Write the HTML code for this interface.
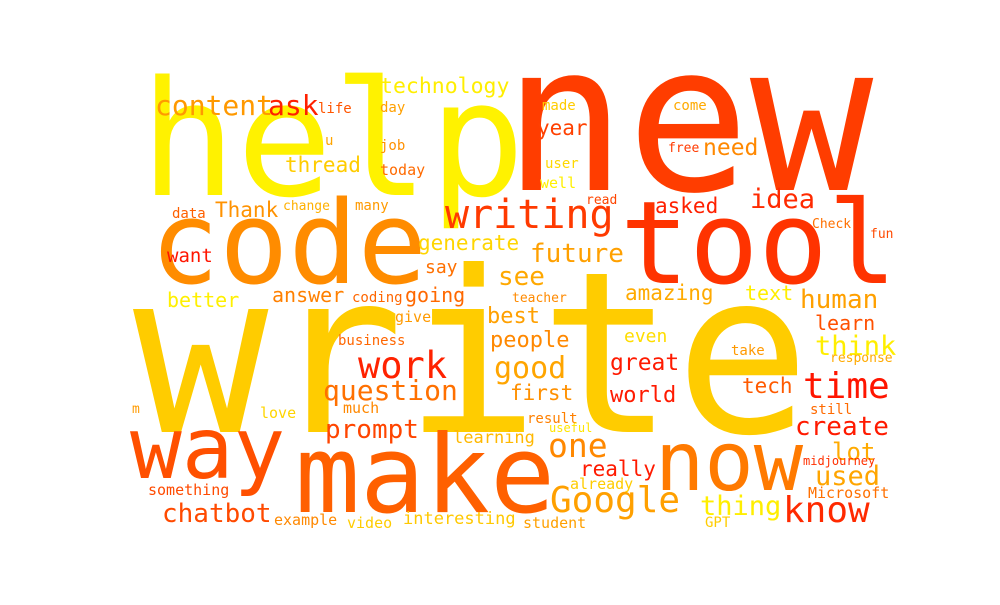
<!DOCTYPE html>
<html><head><meta charset="utf-8"><style>
html,body{margin:0;padding:0;background:#fff;}
svg text{font-family:"DejaVu Sans Mono","Liberation Mono",monospace;}
</style></head><body>
<svg width="1000" height="600" viewBox="0 0 1000 600">
<rect width="1000" height="600" fill="#fff"/>
<g id="words"></g>
</svg>
<script>
const words=["write","help","new","tool","code","make","now","way","writing","content","ask","technology","life","day","u","job","today","thread","Thank","data","change","many","want","generate","say","better","answer","coding","going","see","future","teacher","amazing","text","human","made","come","year","free","need","user","well","read","asked","idea","Check","fun","give","best","business","people","good","work","question","first","m","love","much","prompt","learning","one","even","great","world","take","learn","think","response","tech","time","still","result","useful","create","lot","really","midjourney","used","already","Microsoft","something","Google","thing","know","chatbot","example","video","interesting","student","GPT"];
const xs=[133,140,503,620,150,295,655,130,445,155,268,380,318,380,325,380,380,285,215,172,283,355,167,418,425,167,272,352,405,498,530,512,625,745,800,542,673,537,668,703,545,540,586,655,750,812,870,395,487,338,490,494,358,323,510,132,260,343,325,453,548,624,610,610,731,815,815,830,742,803,810,527,549,795,832,580,803,815,570,808,148,550,700,783,162,274,347,403,523,705];
const ys=[432,195,190,283,283,512,490,478,228,115,115,93,113,112,145,150,175,172,217,218,210,210,262,250,273,307,302,302,302,285,262,302,300,300,308,110,110,135,152,155,168,188,204,213,208,228,238,322,323,345,347,378,378,400,400,413,418,413,438,443,457,342,370,402,355,330,355,362,393,398,414,423,432,435,460,476,465,485,489,498,495,512,515,522,522,525,528,524,528,527];
const sizes=[225,160,205,115,115,108,82,86,40,28,28,21.5,14,14,14,14,15,21,21,14,13,14,19,21,18,20,20,14,20,26,26,13,21,20,26,14,14,21,13,23,14,15,13,21,27,13,13,15,22,14,22,30,37,28,21,13,15,15,26,17,33,18,23,22,14,20,27,13,21,36,14,14,12,26,24,21,12,27,15,15,15,36,27,36,26,15,15,17,15,14];
const colors=["#FFCC00","#FFF200","#FF3D00","#FF3300","#FF8C00","#FF6000","#FF7A00","#FF5000","#FF3A00","#FF9900","#FF2000","#FFEE00","#FF5500","#FFA000","#FFA500","#FF9000","#FF6A00","#FFCC00","#FF9200","#FF6000","#FFB000","#FF9A00","#FF1500","#FFD500","#FF7000","#FFF000","#FF8000","#FF6600","#FF6800","#FFA800","#FFA000","#FF8A00","#FFAA00","#FFEE00","#FFA000","#FFCC00","#FFAA00","#FF4000","#FF3A00","#FF8800","#FFD800","#FFF000","#FF4500","#FF2000","#FF2A00","#FF7000","#FF4A00","#FF9A00","#FFA000","#FF6600","#FF8800","#FFA500","#FF2200","#FF7000","#FF9000","#FF9A00","#FFD500","#FF8800","#FF4500","#FFB800","#FF8800","#FFDD00","#FF1A00","#FF1A00","#FF9900","#FF5000","#FFEE00","#FFAA00","#FF5A00","#FF1500","#FF6A00","#FF8000","#FFE500","#FF1A00","#FFAA00","#FF1A00","#FF3000","#FFA500","#FFCC00","#FF7000","#FF4A00","#FFA000","#FFEE00","#FF2A00","#FF4A00","#FF8800","#FFCC00","#FFC800","#FFA000","#FFCC00"];
const g=document.getElementById('words');
const NS='http://www.w3.org/2000/svg';
for(let i=0;i<words.length;i++){
  const t=document.createElementNS(NS,'text');
  t.setAttribute('x',xs[i]);
  t.setAttribute('y',ys[i]);
  t.setAttribute('font-size',sizes[i]);
  t.setAttribute('fill',colors[i]);
  t.textContent=words[i];
  
  
  g.appendChild(t);
}
</script>
</body></html>
